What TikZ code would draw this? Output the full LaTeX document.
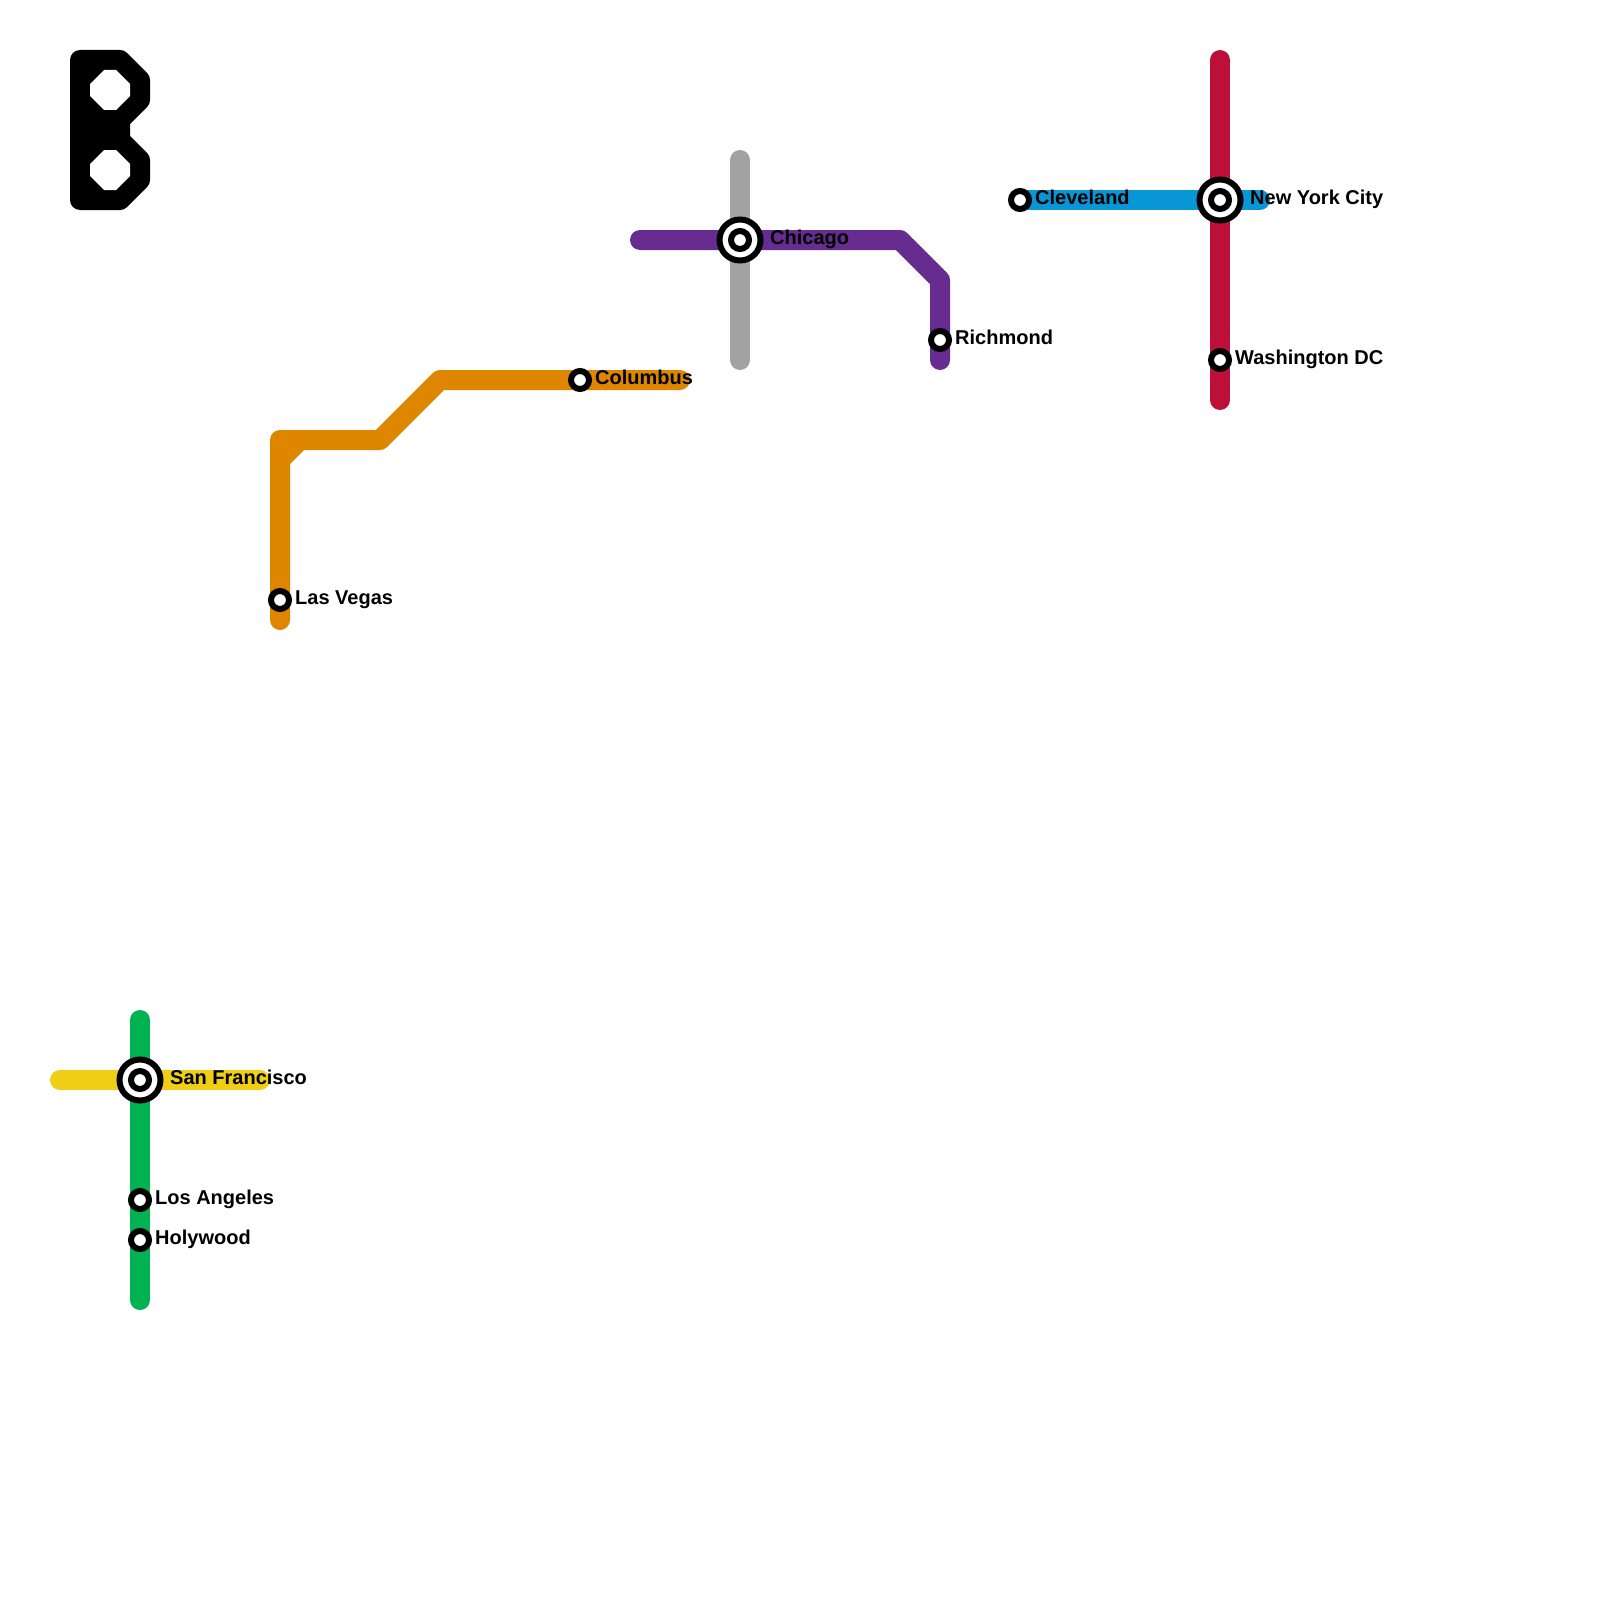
\documentclass[tikz,border=0pt]{standalone}
\usepackage{fontspec}
\usetikzlibrary{calc}
\setmainfont{Liberation Sans}
\definecolor{myellow}{HTML}{F0CE15}
\definecolor{mgreen}{HTML}{00B251}
\definecolor{morange}{HTML}{DF8600}
\definecolor{mpurple}{HTML}{662C90}
\definecolor{mgray}{HTML}{A2A2A2}
\definecolor{mblue}{HTML}{0896D7}
\definecolor{mred}{HTML}{BD1038}
\tikzset{
  metroline/.style={line width=20pt,line cap=round,line join=round},
  stn/.style={circle,draw=black,fill=white,line width=6pt,minimum size=18pt,inner sep=0pt,outer sep=0pt},
  hubouter/.style={circle,draw=black,fill=white,line width=6pt,minimum size=41pt,inner sep=0pt,outer sep=0pt},
  lbl/.style={font=\fontsize{20pt}{22pt}\selectfont\bfseries,anchor=base west,inner sep=0pt,text=black}
}
\begin{document}
\begin{tikzpicture}[x=1pt,y=-1pt]
\useasboundingbox (0,0) rectangle (1600,1600);
% glyph
\filldraw[black,line width=20pt,line join=round] (80,60)--(120,60)--(140,80)--(140,100)--(120,120)--(120,140)--(140,160)--(140,180)--(120,200)--(80,200)--cycle;
\fill[white] (104,70)--(116,70)--(130,84)--(130,96)--(116,110)--(104,110)--(90,96)--(90,84)--cycle;
\fill[white] (104,150)--(116,150)--(130,164)--(130,176)--(116,190)--(104,190)--(90,176)--(90,164)--cycle;
% coordinates
\coordinate (sf) at (140,1080);
\coordinate (la) at (140,1200);
\coordinate (hw) at (140,1240);
\coordinate (lv) at (280,600);
\coordinate (co) at (580,380);
\coordinate (ch) at (740,240);
\coordinate (ri) at (940,340);
\coordinate (cl) at (1020,200);
\coordinate (ny) at (1220,200);
\coordinate (dc) at (1220,360);
\coordinate (y0) at (60,1080);
\coordinate (y1) at (260,1080);
\coordinate (g0) at (140,1020);
\coordinate (g1) at (140,1300);
\coordinate (o0) at (280,620);
\coordinate (o1) at (280,440);
\coordinate (o2) at (380,440);
\coordinate (o3) at (440,380);
\coordinate (o4) at (680,380);
\coordinate (o5) at (280,460);
\coordinate (o6) at (300,440);
\coordinate (a0) at (740,160);
\coordinate (a1) at (740,360);
\coordinate (p0) at (640,240);
\coordinate (p1) at (900,240);
\coordinate (p2) at (940,280);
\coordinate (p3) at (940,360);
\coordinate (b1) at (1260,200);
\coordinate (r0) at (1220,60);
\coordinate (r1) at (1220,400);
% lines
\draw[metroline,myellow] (y0)--(y1);
\draw[metroline,mgreen] (g0)--(g1);
\draw[metroline,morange] (o0)--(o1)--(o2)--(o3)--(o4);
\draw[metroline,morange] (o5)--(o6);
\draw[metroline,mgray] (a0)--(a1);
\draw[metroline,mpurple] (p0)--(p1)--(p2)--(p3);
\draw[metroline,mblue] (cl)--(b1);
\draw[metroline,mred] (r0)--(r1);
% stations
\node[hubouter] (sfo) at (sf) {};
\node[stn] (sfi) at (sf) {};
\node[stn] (lan) at (la) {};
\node[stn] (hwn) at (hw) {};
\node[stn] (lvn) at (lv) {};
\node[stn] (con) at (co) {};
\node[hubouter] (cho) at (ch) {};
\node[stn] (chi) at (ch) {};
\node[stn] (rin) at (ri) {};
\node[stn] (cln) at (cl) {};
\node[hubouter] (nyo) at (ny) {};
\node[stn] (nyi) at (ny) {};
\node[stn] (dcn) at (dc) {};
% labels
\node[lbl] (tsf) at ($(sf)+(30,4.5)$) {San Francisco};
\node[lbl] (tla) at ($(la)+(15,4.5)$) {Los Angeles};
\node[lbl] (thw) at ($(hw)+(15,4.5)$) {Holywood};
\node[lbl] (tlv) at ($(lv)+(15,4.5)$) {Las Vegas};
\node[lbl] (tco) at ($(co)+(15,4.5)$) {Columbus};
\node[lbl] (tch) at ($(ch)+(30,4.5)$) {Chicago};
\node[lbl] (tri) at ($(ri)+(15,4.5)$) {Richmond};
\node[lbl] (tcl) at ($(cl)+(15,4.5)$) {Cleveland};
\node[lbl] (tny) at ($(ny)+(30,4.5)$) {New York City};
\node[lbl] (tdc) at ($(dc)+(15,4.5)$) {Washington DC};
\end{tikzpicture}
\end{document}
